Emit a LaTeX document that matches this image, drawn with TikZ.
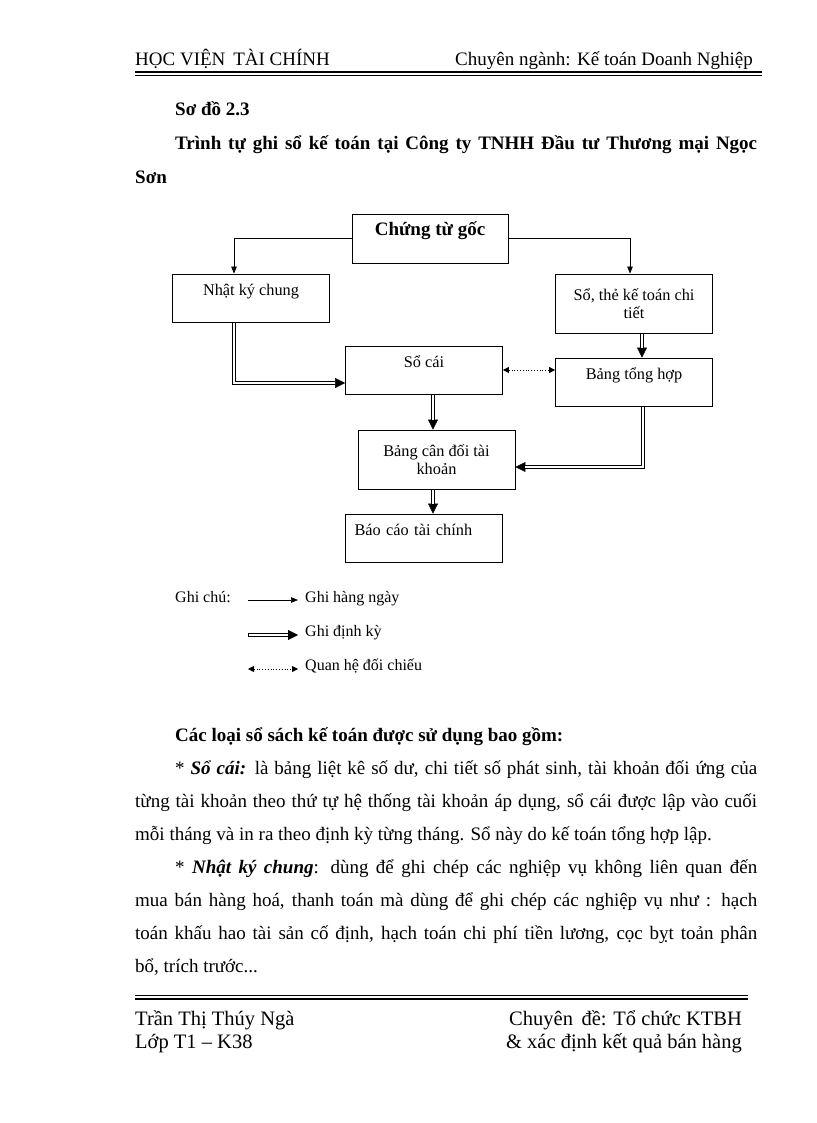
\documentclass[tikz,border=0pt]{standalone}
\usepackage{fontspec}
\setmainfont{Liberation Serif}
\usetikzlibrary{arrows.meta,positioning,calc}
\newcommand\txtbody{\fontsize{19}{23}\selectfont}
\newcommand\txtbox{\fontsize{16.3}{18}\selectfont}
\newcommand\txtleg{\fontsize{16}{19}\selectfont}
\newcommand\txtfoot{\fontsize{20.5}{24}\selectfont}
\newcommand\jline[1]{\makebox[582pt][s]{#1}}
\newcommand\jlinefull[1]{\makebox[622pt][s]{#1}}

\begin{document}
\begin{tikzpicture}[x=1pt, y=-1pt,
  every node/.style={font=\txtbody, inner sep=0pt},
  txt/.style={anchor=base west},
  txtr/.style={anchor=base east},
  boxbase/.style={rectangle, draw, line width=0.8pt, minimum width=157pt, inner sep=2pt, align=center, font=\txtbox},
  box/.style={boxbase, minimum height=48pt, text height=12pt, text depth=17pt},
  tallbox/.style={boxbase, minimum height=59pt},
  arr/.style={-{Triangle[length=7pt,width=5.5pt]}, line width=0.7pt},
  dbl/.style={line width=3.4pt, -{Triangle[length=10pt,width=10pt,line width=0.4pt]},
    postaction={draw=white, line width=1.3pt, -, shorten >=10pt, shorten <=0.6pt}},
  dotarr/.style={{Triangle[length=6pt,width=6pt]}-{Triangle[length=6pt,width=6pt]}, dotted, line width=0.8pt}
]
  \useasboundingbox (0,0) rectangle (816,1123);

  \node[txt] (hv) at (135,66) {HỌC VIỆN\, TÀI CHÍNH};
  \node[txtr] (cn) at (753,66) {Chuyên ngành: Kế toán Doanh Nghiệp};
  \draw[line width=2pt] (135,72) -- (762,72);
  \draw[line width=0.8pt] (135,75.5) -- (762,75.5);

  \node[txt, font=\txtbody\bfseries] (so) at (175,116) {Sơ đồ 2.3};
  \node[txt, font=\txtbody\bfseries] (tt1) at (175,150) {\jline{Trình tự ghi sổ kế toán tại Công ty TNHH Đầu tư Thương mại Ngọc}};
  \node[txt, font=\txtbody\bfseries] (tt2) at (135,184) {Sơn};

  \node[box, minimum width=156pt, minimum height=49pt, font=\txtbody\bfseries] (goc) at (430,238.5) {Chứng từ gốc};
  \node[box] (nkc) at (251,298) {Nhật ký chung};
  \node[tallbox] (sothe) at (634,303.5) {Sổ, thẻ kế toán chi\\tiết};
  \node[box] (socai) at (424,370) {Sổ cái};
  \node[box] (bth) at (634,382) {Bảng tổng hợp};
  \node[tallbox] (bcd) at (436.5,459.5) {Bảng cân đối tài\\khoản};
  \node[box, align=left, text width=139pt] (bctc) at (424,538) {Báo cáo tài chính};

  \draw[arr] (goc.west) -| ([xshift=-17pt]nkc.north);
  \draw[arr] (goc.east) -| ([xshift=-4pt]sothe.north);
  \draw[dbl] ([xshift=-17pt]nkc.south) |- ([yshift=-13pt]socai.west);
  \draw[dbl] ([xshift=8pt]sothe.south) -- ([xshift=8pt]sothe.south |- bth.north);
  \draw[dotarr] (socai.east) -- (socai.east -| bth.west);
  \draw[dbl] ([xshift=9pt]socai.south) -- ([xshift=9pt]socai.south |- bcd.north);
  \draw[dbl] ([xshift=9pt]bth.south) |- ([yshift=-7.5pt]bcd.east);
  \draw[dbl] ([xshift=-3.5pt]bcd.south) -- ([xshift=-3.5pt]bcd.south |- bctc.north);

  \node[txt, font=\txtleg] (ghichu) at (175,602) {Ghi chú:};
  \coordinate (l1s) at (248,600);
  \coordinate (l1e) at (298,600);
  \coordinate (l2s) at (248,635);
  \coordinate (l2e) at (298,635);
  \coordinate (l3s) at (248,669);
  \coordinate (l3e) at (298,669);
  \draw[arr] (l1s) -- (l1e);
  \draw[dbl] (l2s) -- (l2e);
  \draw[dotarr] (l3s) -- (l3e);
  \node[txt, font=\txtleg] (lg1) at (305,602) {Ghi hàng ngày};
  \node[txt, font=\txtleg] (lg2) at (305,636) {Ghi định kỳ};
  \node[txt, font=\txtleg] (lg3) at (305,670) {Quan hệ đối chiếu};

  \node[txt, font=\txtbody\bfseries] (cl) at (175,741) {Các loại sổ sách kế toán được sử dụng bao gồm:};
  \node[txt] (p1a) at (175,774) {\jline{* \textbf{\textit{Sổ cái:}} là bảng liệt kê số dư, chi tiết số phát sinh, tài khoản đối ứng của}};
  \node[txt] (p1b) at (135,807) {\jlinefull{từng tài khoản theo thứ tự hệ thống tài khoản áp dụng, sổ cái được lập vào cuối}};
  \node[txt] (p1c) at (135,840) {mỗi tháng và in ra theo định kỳ từng tháng. Sổ này do kế toán tổng hợp lập.};
  \node[txt] (p2a) at (175,873) {\jline{* \textbf{\textit{Nhật ký chung}}: dùng để ghi chép các nghiệp vụ không liên quan đến}};
  \node[txt] (p2b) at (135,906) {\jlinefull{mua bán hàng hoá, thanh toán mà dùng để ghi chép các nghiệp vụ như : hạch}};
  \node[txt] (p2c) at (135,939) {\jlinefull{toán khấu hao tài sản cố định, hạch toán chi phí tiền lương, cọc bỵt toản phân}};
  \node[txt] (p2d) at (135,972) {bổ, trích trước...};

  \draw[line width=0.9pt] (135,995) -- (748,995);
  \draw[line width=2pt] (135,998.5) -- (748,998.5);
  \node[txt, font=\txtfoot] (ten) at (135,1025) {Trần Thị Thúy Ngà};
  \node[txt, font=\txtfoot] (lop) at (135,1048) {Lớp T1 – K38};
  \node[txtr, font=\txtfoot] (cd) at (742,1025) {Chuyên\, đề: Tổ chức KTBH};
  \node[txtr, font=\txtfoot] (xd) at (742,1048) {\& xác định kết quả bán hàng};
\end{tikzpicture}
\end{document}
